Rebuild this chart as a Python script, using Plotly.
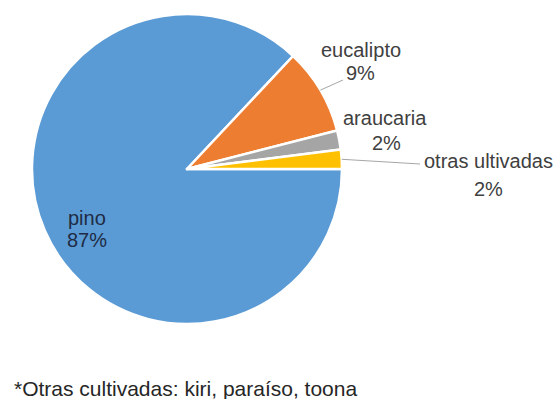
import math
import plotly.graph_objects as go

categories = ["pino", "eucalipto", "araucaria", "otras ultivadas"]
values = [87, 9, 2, 2]
colors = ["#5B9BD5", "#ED7D31", "#A5A5A5", "#FFC000"]
footnote = "*Otras cultivadas: kiri, paraíso, toona"

W, H = 560, 399
cx, cy, r = 187, 169, 155  # pixel centre / radius of the pie

fig = go.Figure(go.Pie(
    labels=categories,
    values=values,
    sort=False,
    direction="clockwise",
    rotation=90,
    marker=dict(colors=colors, line=dict(color="white", width=2.5)),
    textinfo="none",
    hoverinfo="label+percent",
    showlegend=False,
    domain=dict(x=[(cx - r) / W, (cx + r) / W],
                y=[(H - cy - r) / H, (H - cy + r) / H]),
))

total = sum(values)
mids = []
start = 0.0
for v in values:
    sweep = 360.0 * v / total
    mids.append(start - sweep / 2)
    start -= sweep


def px(x, y):
    return x / W, 1 - y / H


FAM = "Liberation Sans, Arial, sans-serif"

# (name line centre, percent line centre) in pixels
label_pos = {
    "pino": ((87, 218), (87, 240)),
    "eucalipto": ((361, 50), (360, 73)),
    "araucaria": ((385, 118), (386, 143)),
    "otras ultivadas": ((488, 161), (488, 189)),
}

annotations = []
for c, v in zip(categories, values):
    pct = f"{round(100 * v / total)}%"
    col = "#1e2c44" if c == "pino" else "#404040"
    for t, (x, y) in zip([c, pct], label_pos[c]):
        fx, fy = px(x, y)
        annotations.append(dict(x=fx, y=fy, xref="paper", yref="paper", text=t,
                                showarrow=False, xanchor="center", yanchor="middle",
                                font=dict(family=FAM, size=20, color=col)))

shapes = []
leader_end = {"eucalipto": (343, 80), "otras ultivadas": (420, 164)}
for i, c in enumerate(categories):
    if c in leader_end:
        a = math.radians(mids[i])
        x0, y0 = cx + r * math.cos(a), cy - r * math.sin(a)
        x1, y1 = leader_end[c]
        p0, p1 = px(x0, y0), px(x1, y1)
        shapes.append(dict(type="line", xref="paper", yref="paper",
                           x0=p0[0], y0=p0[1], x1=p1[0], y1=p1[1],
                           line=dict(color="#A6A6A6", width=1)))

fx, fy = px(12, 388)
annotations.append(dict(x=fx, y=fy, xref="paper", yref="paper", text=footnote,
                        showarrow=False, xanchor="left", yanchor="middle",
                        font=dict(family=FAM, size=21, color="#262626")))

fig.update_layout(
    width=W, height=H,
    margin=dict(l=0, r=0, t=0, b=0),
    paper_bgcolor="white",
    plot_bgcolor="white",
    annotations=annotations,
    shapes=shapes,
)

fig.write_html("out.html")
